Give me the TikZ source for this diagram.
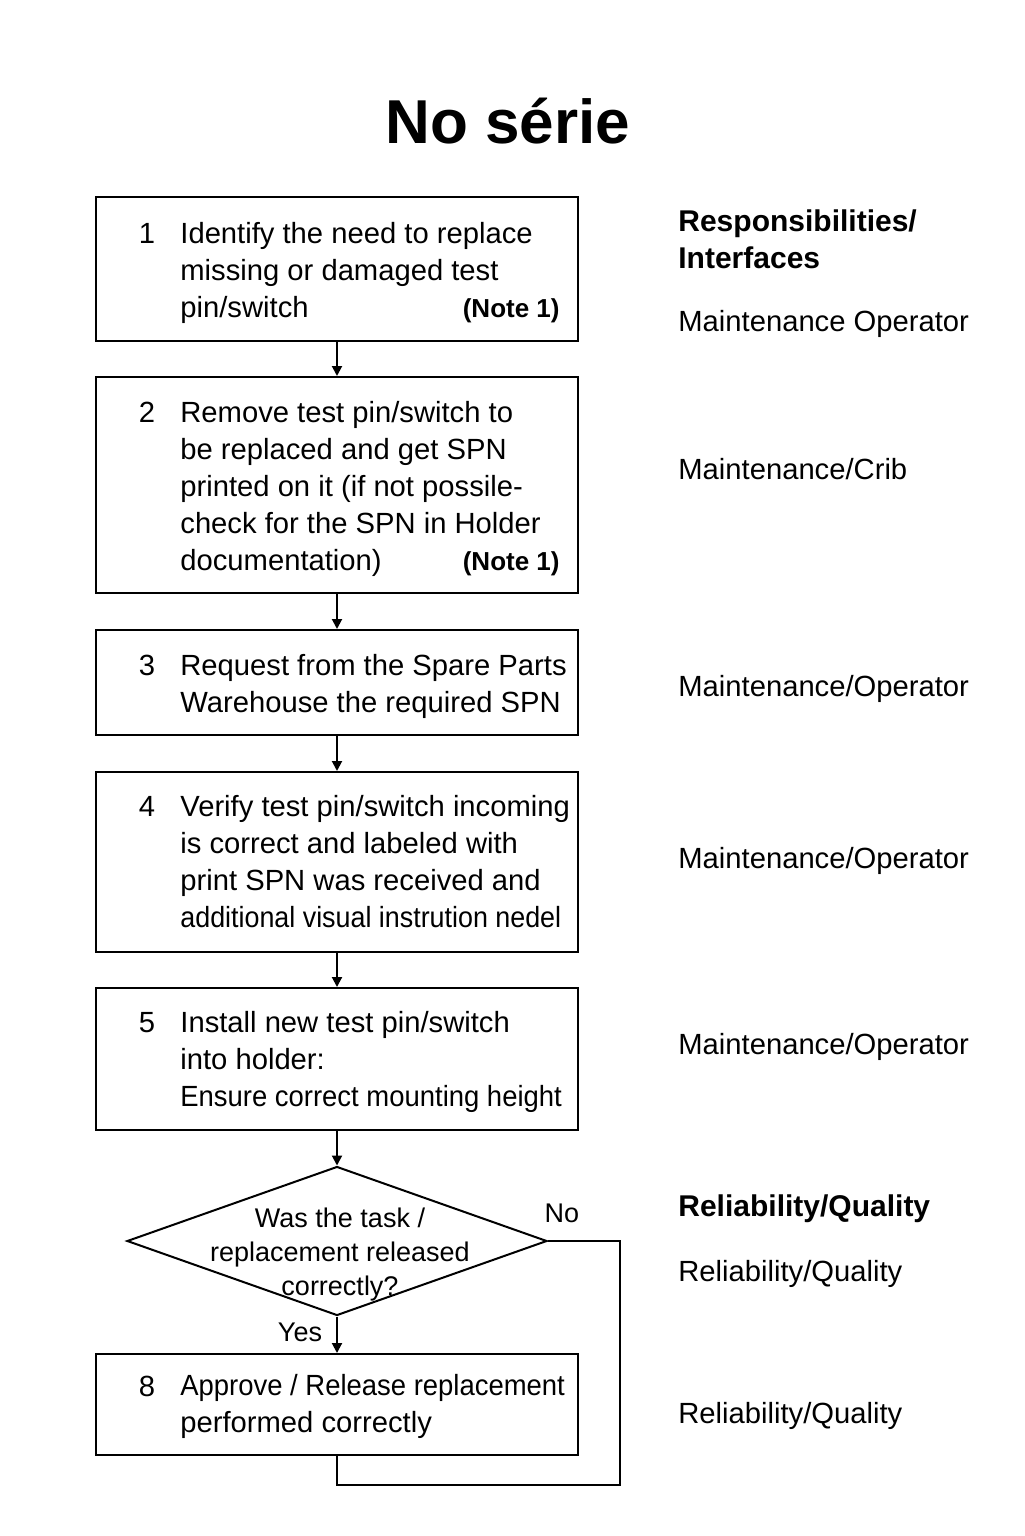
\documentclass[tikz,border=0pt]{standalone}
\usepackage{fontspec}
\usepackage{graphicx}
\setmainfont{Liberation Sans}
\usetikzlibrary{shapes.geometric,arrows.meta}

\tikzset{
  stepbox/.style={shape=rectangle, draw=black, line width=1pt, minimum width=241pt, inner sep=0pt},
  steptext/.style={anchor=base west, align=left, inner sep=0pt, font=\fontsize{14.6}{18.5}\selectfont},
  stepnum/.style={anchor=base, inner sep=0pt, font=\fontsize{14.6}{18.5}\selectfont},
  notetext/.style={anchor=base east, inner sep=0pt, font=\bfseries\fontsize{13}{18.5}\selectfont},
  roletext/.style={anchor=base west, align=left, inner sep=0pt, font=\fontsize{14.6}{18.5}\selectfont},
  roletitle/.style={roletext, font=\bfseries\fontsize{15}{18.5}\selectfont},
  flow/.style={line width=1pt, -{Triangle[length=5pt,width=5pt]}}
}

\begin{document}
\begin{tikzpicture}[x=0.5pt, y=-0.5pt]
    \useasboundingbox (0,0) rectangle (1024,1536);

    \node[anchor=base, font=\bfseries\fontsize{31}{36}\selectfont] (title) at (508,143) {No série};

    \node[stepbox, minimum height=72pt] (b1) at (337,269) {};
    \node[stepbox, minimum height=108pt] (b2) at (337,485) {};
    \node[stepbox, minimum height=52.5pt] (b3) at (337,682.5) {};
    \node[stepbox, minimum height=90pt] (b4) at (337,862) {};
    \node[stepbox, minimum height=71pt] (b5) at (337,1059) {};
    \node[shape=diamond, draw=black, line width=1pt, inner sep=0pt, minimum width=210pt, minimum height=74.5pt] (dec) at (337,1241) {};
    \node[stepbox, minimum height=50.5pt] (b8) at (337,1404.5) {};

    \node[stepnum] (n1) at (147,243) {1};
    \node[steptext] (t1) at (180,317) {Identify the need to replace\\missing or damaged test\\pin/switch};
    \node[notetext] (note1) at (560,317) {(Note 1)};

    \node[stepnum] (n2) at (147,422) {2};
    \node[steptext] (t2) at (180,570) {Remove test pin/switch to\\be replaced and get SPN\\printed on it (if not possile-\\check for the SPN in Holder\\documentation)};
    \node[notetext] (note2) at (560,570) {(Note 1)};

    \node[stepnum] (n3) at (147,675) {3};
    \node[steptext] (t3) at (180,712) {Request from the Spare Parts\\Warehouse the required SPN};

    \node[stepnum] (n4) at (147,816) {4};
    \node[steptext] (t4) at (180,927) {Verify test pin/switch incoming\\is correct and labeled with\\print SPN was received and\\\scalebox{0.92}[1]{additional visual instrution nedel}};

    \node[stepnum] (n5) at (147,1032) {5};
    \node[steptext] (t5) at (180,1106) {Install new test pin/switch\\into holder:\\\scalebox{0.94}[1]{Ensure correct mounting height}};

    \node[anchor=base, align=center, inner sep=0pt, font=\fontsize{13.5}{17}\selectfont] (dect) at (340,1295) {Was the task /\\replacement released\\correctly?};

    \node[stepnum] (n8) at (147,1396) {8};
    \node[steptext] (t8) at (180,1432) {\scalebox{0.94}[1]{Approve / Release replacement}\\performed correctly};

    \node[anchor=base, inner sep=0pt, font=\fontsize{13.5}{17}\selectfont] (yes) at (300,1341) {Yes};
    \node[anchor=base, inner sep=0pt, font=\fontsize{13.5}{17}\selectfont] (no) at (562,1222) {No};

    \node[roletitle] (r0) at (678,268) {Responsibilities/\\Interfaces};
    \node[roletext] (r1) at (678,331) {Maintenance Operator};
    \node[roletext] (r2) at (678,479) {Maintenance/Crib};
    \node[roletext] (r3) at (678,696) {Maintenance/Operator};
    \node[roletext] (r4) at (678,868) {Maintenance/Operator};
    \node[roletext] (r5) at (678,1054) {Maintenance/Operator};
    \node[roletitle] (r6) at (678,1216) {Reliability/Quality};
    \node[roletext] (r7) at (678,1281) {Reliability/Quality};
    \node[roletext] (r8) at (678,1423) {Reliability/Quality};

    \coordinate (c1) at (620,1241);
    \coordinate (c2) at (620,1485);
    \coordinate (c3) at (337,1485);

    \draw[flow] (b1) -- (b2);
    \draw[flow] (b2) -- (b3);
    \draw[flow] (b3) -- (b4);
    \draw[flow] (b4) -- (b5);
    \draw[flow] (b5) -- (dec);
    \draw[flow] (dec) -- (b8);
    \draw[line width=1pt] (dec.east) -- (c1) -- (c2) -- (c3) -- (b8.south);
\end{tikzpicture}
\end{document}
